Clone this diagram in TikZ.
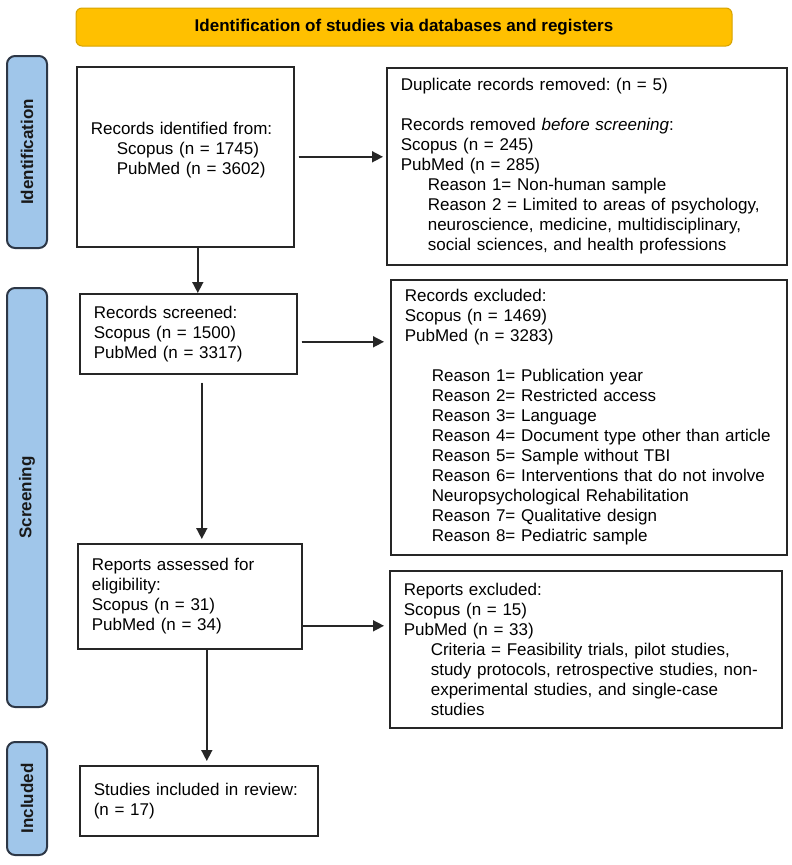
\documentclass[tikz,border=0pt]{standalone}
\usepackage{fontspec}
\setmainfont{Liberation Sans}
\usepackage{tikz}
\usetikzlibrary{arrows.meta, calc}
\usepackage{xcolor}
\definecolor{bannergold}{RGB}{255,192,0}
\definecolor{bannerline}{RGB}{214,163,0}
\definecolor{phaseblue}{RGB}{160,198,234}
\definecolor{phaseline}{RGB}{45,55,70}
\frenchspacing
\tikzset{
    caixa/.style={draw=black!85, line width=1.6pt, fill=white, inner xsep=14pt, align=left, anchor=north west, font=\fontsize{17}{20}\selectfont},
    fase/.style={draw=phaseline, line width=2pt, fill=phaseblue, rounded corners=8pt, rotate=90, minimum height=40pt, font=\fontsize{17}{20}\selectfont\bfseries, text=black!90},
    seta/.style={-{Triangle[length=11pt,width=11pt]}, line width=1.6pt, draw=black!85, fill=black!85}
}

\begin{document}
\begin{tikzpicture}[x=1pt, y=-1pt]
    % Estilos
    \tikzset{
        banner/.style={draw=bannerline, line width=1pt, fill=bannergold, rounded corners=6pt, minimum width=656pt, minimum height=38pt, font=\fontsize{17}{20}\selectfont\bfseries}
    }
    \useasboundingbox (0,0) rectangle (792,865);

    % Titulo
    \node[banner] (titulo) at (404,27) {Identification of studies via databases and registers};

    % Fases
    \node[fase, minimum width=192pt] (fid) at (27,152) {Identification};
    \node[fase, minimum width=419pt] (fscr) at (27,497.5) {Screening};
    \node[fase, minimum width=113pt] (finc) at (27,798.5) {Included};

    % Coluna principal
    \node[caixa, text width=189pt, minimum height=180pt] (ident) at (76,66)
        {Records identified from:\\\hspace*{26pt}Scopus (n = 1745)\\\hspace*{26pt}PubMed (n = 3602)\\[-4pt]\mbox{}};
    \node[caixa, text width=189pt, minimum height=80pt] (screen) at (79,293)
        {Records screened:\\Scopus (n = 1500)\\PubMed (n = 3317)};
    \node[caixa, text width=196pt, minimum height=105pt] (assess) at (77,543)
        {Reports assessed for\\eligibility:\\Scopus (n = 31)\\PubMed (n = 34)};
    \node[caixa, text width=210pt, minimum height=70pt] (incl) at (79,765)
        {Studies included in review:\\(n = 17)};

    % Coluna de exclusoes
    \node[caixa, text width=372pt, minimum height=197pt] (dup) at (386,67)
        {Duplicate records removed: (n = 5)\\[20pt]
         Records removed \textit{before screening}:\\
         Scopus (n = 245)\\
         PubMed (n = 285)\\
         \hspace*{27pt}Reason 1= Non-human sample\\
         \hspace*{27pt}Reason 2 = Limited to areas of psychology,\\
         \hspace*{27pt}neuroscience, medicine, multidisciplinary,\\
         \hspace*{27pt}social sciences, and health professions};
    \node[caixa, text width=368pt, minimum height=275pt] (excl) at (390,279)
        {Records excluded:\\
         Scopus (n = 1469)\\
         PubMed (n = 3283)\\[20pt]
         \hspace*{27pt}Reason 1= Publication year\\
         \hspace*{27pt}Reason 2= Restricted access\\
         \hspace*{27pt}Reason 3= Language\\
         \hspace*{27pt}Reason 4= Document type other than article\\
         \hspace*{27pt}Reason 5= Sample without TBI\\
         \hspace*{27pt}Reason 6= Interventions that do not involve\\
         \hspace*{27pt}Neuropsychological Rehabilitation\\
         \hspace*{27pt}Reason 7= Qualitative design\\
         \hspace*{27pt}Reason 8= Pediatric sample};
    \node[caixa, text width=364pt, minimum height=157pt] (rexcl) at (389,570)
        {Reports excluded:\\
         Scopus (n = 15)\\
         PubMed (n = 33)\\
         \hspace*{27pt}Criteria = Feasibility trials, pilot studies,\\
         \hspace*{27pt}study protocols, retrospective studies, non-\\
         \hspace*{27pt}experimental studies, and single-case\\
         \hspace*{27pt}studies};

    % Setas verticais
    \draw[seta] ([xshift=12.5pt]ident.south) -- ([xshift=12.5pt]ident.south |- screen.north);
    \draw[seta, shorten <=8pt, shorten >=4pt] ([xshift=13.5pt]screen.south) -- ([xshift=13.5pt]screen.south |- assess.north);
    \draw[seta, shorten >=4pt] ([xshift=17pt]assess.south) -- ([xshift=17pt]assess.south |- incl.north);

    % Setas horizontais
    \draw[seta, shorten <=4pt, shorten >=3pt] (ident.east) -- (ident.east -| dup.west);
    \draw[seta, shorten <=4pt, shorten >=6pt] ([yshift=-8pt]screen.east) -- ([yshift=-8pt]screen.east -| excl.west);
    \draw[seta, shorten >=5pt] ([yshift=-29.5pt]assess.east) -- ([yshift=-29.5pt]assess.east -| rexcl.west);
\end{tikzpicture}
\end{document}
